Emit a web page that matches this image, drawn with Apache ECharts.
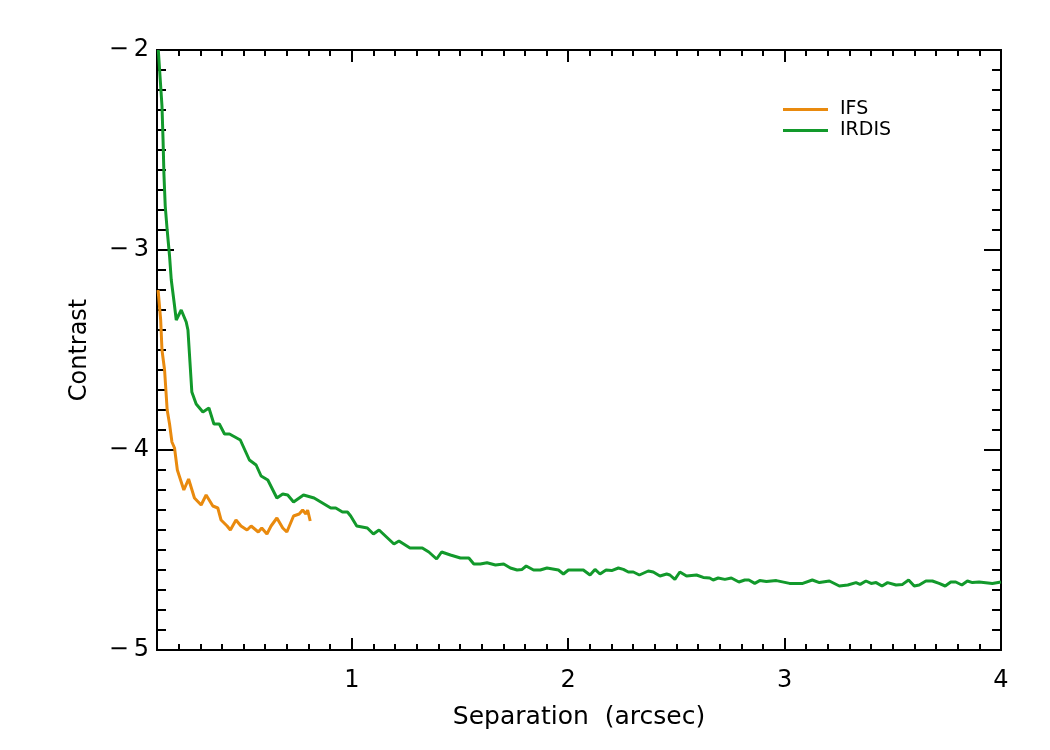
<!DOCTYPE html>
<html>
<head>
<meta charset="utf-8">
<script src="https://cdn.jsdelivr.net/npm/echarts@6/dist/echarts.min.js"></script>
<style>
  html, body { margin: 0; padding: 0; background: #fff; }
  #chart { width: 1050px; height: 750px; }
</style>
</head>
<body>
<div id="chart"></div>
<script>
// IRDIS curve (separation in arcsec, log contrast)
const irdisSep = [0.106, 0.123, 0.128, 0.132, 0.138, 0.147, 0.158, 0.166, 0.18, 0.189, 0.212, 0.235, 0.243,
  0.261, 0.281, 0.312, 0.34, 0.363, 0.388, 0.412, 0.435, 0.485, 0.527, 0.558, 0.581, 0.612, 0.654, 0.681,
  0.704, 0.731, 0.777, 0.826, 0.903, 0.926, 0.957, 0.98, 0.995, 1.023, 1.072, 1.10, 1.126, 1.195, 1.218,
  1.269, 1.326, 1.356, 1.392, 1.415, 1.456, 1.502, 1.541, 1.564, 1.594, 1.625, 1.664, 1.702, 1.733, 1.764,
  1.787, 1.806, 1.840, 1.871, 1.902, 1.955, 1.978, 2.001, 2.070, 2.101, 2.124, 2.147, 2.175, 2.201, 2.232,
  2.255, 2.278, 2.301, 2.329, 2.370, 2.393, 2.424, 2.455, 2.470, 2.493, 2.516, 2.547, 2.593, 2.624, 2.654,
  2.670, 2.693, 2.724, 2.754, 2.789, 2.816, 2.835, 2.862, 2.885, 2.916, 2.962, 3.023, 3.084, 3.128, 3.161,
  3.207, 3.253, 3.292, 3.330, 3.349, 3.376, 3.400, 3.423, 3.450, 3.476, 3.515, 3.545, 3.573, 3.599, 3.622,
  3.653, 3.683, 3.714, 3.742, 3.768, 3.791, 3.819, 3.845, 3.868, 3.899, 3.960, 4.0];
const irdisContrast = [-2.0, -2.28, -2.45, -2.62, -2.78, -2.90, -3.03, -3.15, -3.27, -3.35, -3.30, -3.36, -3.40,
  -3.71, -3.77, -3.81, -3.79, -3.87, -3.87, -3.92, -3.92, -3.95, -4.05, -4.075, -4.13, -4.15, -4.24, -4.22,
  -4.225, -4.26, -4.225, -4.24, -4.29, -4.29, -4.31, -4.31, -4.33, -4.38, -4.39, -4.42, -4.40, -4.47, -4.455,
  -4.49, -4.49, -4.51, -4.545, -4.51, -4.525, -4.54, -4.54, -4.57, -4.57, -4.564, -4.575, -4.57, -4.59, -4.60,
  -4.597, -4.58, -4.60, -4.60, -4.59, -4.60, -4.62, -4.60, -4.60, -4.625, -4.597, -4.62, -4.60, -4.603, -4.59,
  -4.597, -4.61, -4.61, -4.625, -4.605, -4.61, -4.63, -4.62, -4.625, -4.647, -4.61, -4.63, -4.625, -4.637, -4.64,
  -4.65, -4.64, -4.647, -4.64, -4.66, -4.65, -4.65, -4.667, -4.653, -4.658, -4.653, -4.667, -4.667, -4.65, -4.663,
  -4.655, -4.68, -4.675, -4.663, -4.672, -4.655, -4.667, -4.663, -4.68, -4.663, -4.675, -4.672, -4.65, -4.68,
  -4.675, -4.655, -4.655, -4.667, -4.68, -4.66, -4.66, -4.675, -4.655, -4.663, -4.66, -4.667, -4.66];

// IFS curve
const ifsSep = [0.105, 0.117, 0.123, 0.135, 0.147, 0.158, 0.169, 0.181, 0.194, 0.209, 0.224, 0.246, 0.273,
  0.304, 0.327, 0.358, 0.381, 0.396, 0.424, 0.439, 0.465, 0.488, 0.516, 0.535, 0.568, 0.584, 0.608, 0.627,
  0.654, 0.681, 0.70, 0.731, 0.757, 0.773, 0.788, 0.796, 0.808];
const ifsContrast = [-3.20, -3.35, -3.50, -3.60, -3.80, -3.87, -3.96, -3.99, -4.10, -4.15, -4.20, -4.145, -4.24,
  -4.275, -4.225, -4.28, -4.29, -4.35, -4.38, -4.40, -4.35, -4.38, -4.40, -4.38, -4.41, -4.39, -4.42, -4.38,
  -4.34, -4.39, -4.41, -4.33, -4.32, -4.30, -4.32, -4.30, -4.355];

const xTickLabels = [1, 2, 3, 4];
const xMin = 0.1, xMax = 4;

// minor ticks every 0.1 between the labelled ones
const xMinor = [];
for (let i = 2; i < 40; i++) {
  if (i % 10 !== 0) xMinor.push(i / 10);
}

const font = "DejaVu Sans";

function xAx(pos, ticks, len, labels) {
  return {
    type: "value",
    position: pos,
    min: xMin,
    max: xMax,
    axisLine: { show: true, onZero: false, lineStyle: { color: "#000", width: 2 } },
    axisTick: { show: true, inside: true, length: len, customValues: ticks, lineStyle: { color: "#000", width: 2 } },
    axisLabel: labels
      ? { show: true, customValues: xTickLabels, margin: 19, color: "#000", fontSize: 24, fontFamily: font }
      : { show: false },
    splitLine: { show: false }
  };
}

function yAx(pos, labels) {
  return {
    type: "value",
    position: pos,
    min: -5,
    max: -2,
    interval: 1,
    axisLine: { show: true, onZero: false, lineStyle: { color: "#000", width: 2 } },
    axisTick: { show: true, inside: true, length: 17, lineStyle: { color: "#000", width: 2 } },
    minorTick: { show: true, splitNumber: 10, length: 9, lineStyle: { color: "#000", width: 2 } },
    axisLabel: labels
      ? {
          show: true, margin: 8, color: "#000", fontSize: 24, fontFamily: font,
          formatter: (v) => String(v).replace("-", "\u2212\u2009")
        }
      : { show: false },
    splitLine: { show: false },
    minorSplitLine: { show: false }
  };
}

const bottomMajor = xAx("bottom", xTickLabels, 12, true);
bottomMajor.name = "Separation  (arcsec)";
bottomMajor.nameLocation = "middle";
bottomMajor.nameGap = 55;
bottomMajor.nameTextStyle = { color: "#000", fontSize: 25, fontFamily: font };

const leftY = yAx("left", true);
leftY.name = "Contrast";
leftY.nameLocation = "middle";
leftY.nameGap = 65;
leftY.nameTextStyle = { color: "#000", fontSize: 24, fontFamily: font };

const option = {
  animation: false,
  backgroundColor: "#fff",
  grid: { left: 157, right: 49, top: 50, bottom: 100 },
  legend: {
    orient: "vertical",
    left: 778,
    top: 95,
    itemWidth: 45,
    itemHeight: 3,
    itemGap: 2,
    icon: "rect",
    textStyle: { color: "#000", fontSize: 19, fontFamily: font, padding: [0, 0, 0, 7] },
    data: ["IFS", "IRDIS"]
  },
  xAxis: [
    bottomMajor,
    xAx("bottom", xMinor, 6, false),
    xAx("top", xTickLabels, 12, false),
    xAx("top", xMinor, 6, false)
  ],
  yAxis: [leftY, yAx("right", false)],
  series: [
    {
      name: "IFS",
      type: "line",
      showSymbol: false,
      color: "#e98a0e",
      lineStyle: { width: 3 },
      data: ifsSep.map((x, i) => [x, ifsContrast[i]])
    },
    {
      name: "IRDIS",
      type: "line",
      showSymbol: false,
      color: "#12992b",
      lineStyle: { width: 3 },
      data: irdisSep.map((x, i) => [x, irdisContrast[i]])
    }
  ]
};

const myChart = echarts.init(document.getElementById("chart"));
myChart.setOption(option);
</script>
</body>
</html>
